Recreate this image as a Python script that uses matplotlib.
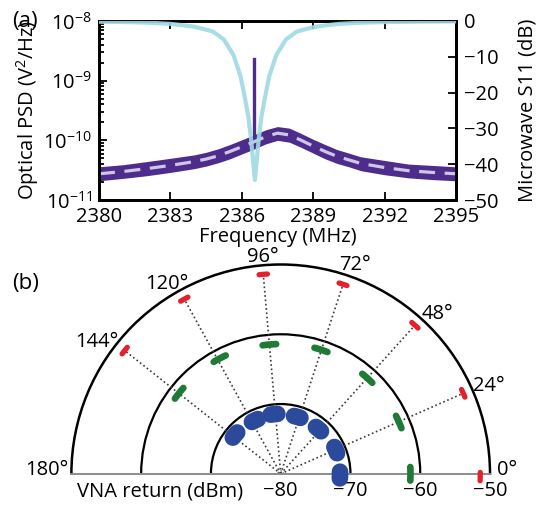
import numpy as np
import matplotlib
matplotlib.use("Agg")
import matplotlib.pyplot as plt

plt.rcParams['font.family'] = ['Open Sans', 'DejaVu Sans']
plt.rcParams['mathtext.fontset'] = 'custom'
plt.rcParams['mathtext.rm'] = 'Open Sans'
plt.rcParams['mathtext.it'] = 'Open Sans'
plt.rcParams['font.size'] = 14.5

# ---------------- data: panel (a) ----------------
psd_freq = [2380, 2381, 2382, 2383, 2384, 2384.5, 2385, 2385.5, 2386, 2386.5,
            2387, 2387.5, 2388, 2388.5, 2389, 2389.5, 2390, 2390.5, 2391, 2392,
            2393, 2394, 2395]
psd_fit = [2.75e-11, 3.0e-11, 3.35e-11, 3.8e-11, 4.4e-11, 4.85e-11, 5.5e-11, 6.5e-11,
           7.8e-11, 9.4e-11, 1.15e-10, 1.32e-10, 1.23e-10, 1.0e-10, 8.0e-11, 6.5e-11,
           5.4e-11, 4.7e-11, 4.1e-11, 3.5e-11, 3.1e-11, 2.9e-11, 2.75e-11]
psd_upper = [3.6e-11, 3.9e-11, 4.4e-11, 5.0e-11, 5.7e-11, 6.3e-11, 7.2e-11, 8.5e-11,
             1.02e-10, 1.23e-10, 1.5e-10, 1.7e-10, 1.6e-10, 1.3e-10, 1.04e-10, 8.5e-11,
             7.0e-11, 6.1e-11, 5.3e-11, 4.6e-11, 4.0e-11, 3.8e-11, 3.6e-11]
psd_lower = [2.1e-11, 2.3e-11, 2.55e-11, 2.9e-11, 3.35e-11, 3.7e-11, 4.2e-11, 4.9e-11,
             5.9e-11, 7.1e-11, 8.7e-11, 1.0e-10, 9.3e-11, 7.6e-11, 6.1e-11, 4.9e-11,
             4.1e-11, 3.6e-11, 3.1e-11, 2.65e-11, 2.35e-11, 2.2e-11, 2.1e-11]
spike_freq = [2386.53, 2386.53]
spike_psd = [9.0e-11, 2.3e-9]

s11_freq = [2380.0, 2381.0, 2382.0, 2383.0, 2383.55, 2384.0, 2384.55, 2384.8, 2385.25,
            2385.65, 2385.95, 2386.13, 2386.27, 2386.39, 2386.5, 2386.55, 2386.6,
            2386.71, 2386.83, 2386.97, 2387.15, 2387.45, 2387.85, 2388.3, 2388.55,
            2389.1, 2389.55, 2390.1, 2391.1, 2392.1, 2393.1, 2394.1, 2395.0]
s11_db = [-0.2, -0.3, -0.45, -0.8, -1.2, -1.6, -2.5, -3.0, -5.2,
          -9.5, -15.5, -21.5, -26.5, -33.0, -41.0, -44.4, -41.0,
          -33.0, -26.5, -21.5, -15.5, -9.5, -5.2, -3.0, -2.5,
          -1.6, -1.2, -0.8, -0.45, -0.3, -0.2, -0.15, -0.1]

freq_ticks = [2380, 2383, 2386, 2389, 2392, 2395]
s11_ticks = [0, -10, -20, -30, -40, -50]

# ---------------- data: panel (b) ----------------
theta_labels = [0, 24, 48, 72, 96, 120, 144, 180]
r_ticks = [-80, -70, -60, -50]
red_theta = [-0.8, 23.8, 47.9, 71.8, 95.0, 118.9, 141.7]
red_r = [-51.4, -51.4, -51.3, -51.4, -51.3, -51.4, -51.5]
green_theta = [0.0, 23.7, 47.8, 72.0, 95.0, 117.9, 141.6]
green_r = [-61.4, -61.5, -61.5, -61.3, -61.4, -61.3, -61.4]
blue_theta = [-1.2, 23.3, 49.8, 73.8, 96.4, 115.8, 139.7]
blue_r = [-71.5, -71.4, -71.6, -71.5, -71.4, -71.5, -71.4]

W, H = 538, 505
fig = plt.figure(figsize=(W / 100, H / 100), dpi=100)

# ---------------- panel (a) ----------------
ax = fig.add_axes([99 / W, 1 - 200 / H, (456 - 99) / W, (200 - 21) / H])
purple = '#4E2C8C'
ax.fill_between(psd_freq, psd_lower, psd_upper, color=purple, lw=0, zorder=2)
ax.plot(spike_freq, spike_psd, color=purple, lw=2.4, zorder=2)
ax.plot(psd_freq, psd_fit, color='#CFC6E6', lw=2.3, dashes=(5, 3), zorder=3)
ax.set_yscale('log')
ax.set_ylim(1e-11, 1e-8)
ax.set_xlim(2380, 2395)
ax.set_xticks(freq_ticks)
ax.set_xticklabels([str(t) for t in freq_ticks])
ax.set_xlabel('Frequency (MHz)', labelpad=0)
ax.set_ylabel('Optical PSD (V$^2$/Hz)', labelpad=2)
ax.tick_params(which='both', direction='in', top=True, right=False, width=1.3)
ax.tick_params(which='major', length=6, pad=5)
ax.tick_params(which='minor', length=3.5)
for s in ax.spines.values():
    s.set_linewidth(2)

ax2 = ax.twinx()
ax2.plot(s11_freq, s11_db, color='#9FD9E4', lw=3, alpha=0.9, zorder=3)
ax2.set_ylim(-50, 0)
ax2.set_yticks(s11_ticks)
ax2.set_yticklabels(['0' if t == 0 else '\u2212%d' % -t for t in s11_ticks])
ax2.set_ylabel('Microwave S11 (dB)', labelpad=13)
ax2.tick_params(direction='in', length=6, width=1.3, pad=6)
for s in ax2.spines.values():
    s.set_linewidth(2)

fig.text(12 / W, 1 - 21 / H, '(a)', fontsize=16, va='center', ha='left')
fig.text(12 / W, 1 - 284 / H, '(b)', fontsize=16, va='center', ha='left')

# ---------------- panel (b) ----------------
# centre of the half-disc at (280.7, 473.8) px, radius 209.3 px.
# a half polar wedge occupies the middle half of a square axes box
R = 209.3
cx, cy = 280.7, 473.8
side = 2 * R
box_bottom_px = cy + R / 2
pa = fig.add_axes([(cx - R) / W, 1 - box_bottom_px / H, side / W, side / H],
                  projection='polar')
pa.set_thetamin(0)
pa.set_thetamax(180)
pa.set_rlim(-80, -50)
pa.set_thetagrids(theta_labels, [''] * len(theta_labels))
pa.xaxis.grid(False)
pa.set_rticks([-70, -60])
pa.set_yticklabels([])
pa.yaxis.grid(True, color='k', ls='-', lw=1.6)
pa.spines['polar'].set_linewidth(1.8)
pa.spines['start'].set_color('#8c8c8c')
pa.spines['end'].set_color('#8c8c8c')
pa.spines['start'].set_linewidth(1.4)
pa.spines['end'].set_linewidth(1.4)

# angle labels placed just outside the outer ring (offsets in px: right, up)
label_offsets_px = {0: (17, 5.8), 24: (17, 5.2), 48: (16.8, 6.8), 72: (9.1, 12.2),
                    96: (3.7, 11.1), 120: (-9.5, 11), 144: (-14.9, 10.8),
                    180: (-24.4, 5.8)}
for t in theta_labels:
    dx, dy = label_offsets_px[t]
    pa.annotate('%d\u00b0' % t, xy=(np.deg2rad(t), -50),
                xytext=(dx * 0.72, (dy - 7.2) * 0.72), textcoords='offset points',
                ha='center', va='baseline', annotation_clip=False)

# small dotted arc around the origin
arc = np.linspace(0, np.pi, 30)
pa.plot(arc, np.full_like(arc, -79.6), color='#444444', lw=0.9, ls=':')

# dotted radial guide lines from origin to the outer cluster
for th, r in zip(red_theta[1:], red_r[1:]):
    pa.plot([np.deg2rad(th)] * 2, [-80, r], color='#3a3a3a', lw=1.2,
            ls=(0, (1, 1.6)), zorder=2)

def cluster(th, r, half_deg, lw, color):
    t = np.deg2rad(np.linspace(th - half_deg, th + half_deg, 12))
    pa.plot(t, np.full_like(t, r), color=color, lw=lw, solid_capstyle='round',
            clip_on=False, zorder=4)

for th, r in zip(red_theta, red_r):
    cluster(th, r, 1.2, 3.8, '#E5202A')
for th, r in zip(green_theta, green_r):
    cluster(th, r, 3.0, 4.8, '#1F7A36')
for th, r in zip(blue_theta, blue_r):
    cluster(th, r, 3.2, 12.0, '#2C4A9C')

fig.text(77 / W, 1 - 491 / H, 'VNA return (dBm)', ha='left', va='center')
for rt in r_ticks:
    pa.annotate('\u2212%d' % -rt, xy=(0, rt), xytext=(0, -5), textcoords='offset points',
                ha='center', va='top', annotation_clip=False)

fig.savefig('out.png', dpi=100)
